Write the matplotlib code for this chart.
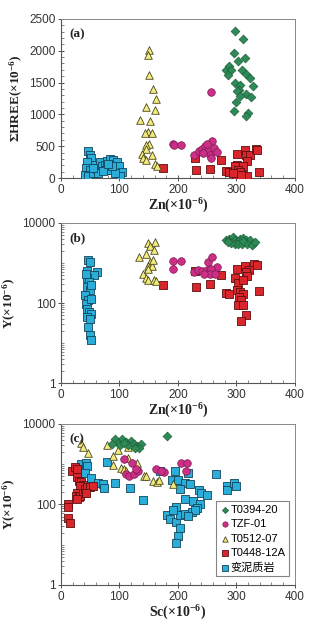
import matplotlib.pyplot as plt
from matplotlib.ticker import MultipleLocator, LogLocator, FixedLocator, NullFormatter

# ---- panel (a): Zn vs sum HREE ----
a_t0394_zn = [297, 311, 296, 303, 314, 282, 288, 291, 286, 310, 317, 324, 297, 307, 304, 301,
              328, 316, 325, 300, 296, 320, 317, 307]
a_t0394_hree = [2317, 2186, 1965, 1845, 1887, 1703, 1756, 1693, 1625, 1693, 1640, 1572, 1494,
                1467, 1389, 1363, 1452, 1321, 1268, 1190, 1048, 1022, 980, 1284]
a_tzf_zn = [191, 194, 206, 256, 228, 236, 242, 246, 252, 259, 249, 262, 266, 255, 256, 243]
a_tzf_hree = [540, 524, 514, 1352, 367, 419, 461, 498, 419, 587, 535, 472, 404, 367, 314, 393]
a_t0512_zn = [151, 148, 150, 158, 162, 145, 160, 135, 152, 148, 156, 144, 150, 145, 146, 139,
              156, 141, 146, 161, 165]
a_t0512_hree = [2008, 1934, 1614, 1405, 1248, 1111, 1075, 917, 902, 718, 708, 708, 535, 514,
                456, 383, 362, 314, 278, 220, 194]
a_t0448_zn = [175, 229, 231, 254, 274, 283, 288, 301, 301, 314, 316, 323, 333, 335, 318, 312,
              297, 303, 306, 312, 300, 318, 308, 338, 294]
a_t0448_hree = [152, 314, 131, 141, 288, 105, 89, 383, 210, 446, 362, 367, 461, 446, 273, 194,
                183, 131, 89, 52, 26, 26, 52, 89, 78]
a_meta_zn = [47, 50, 52, 45, 58, 67, 43, 50, 41, 47, 54, 61, 70, 75, 79, 84, 89, 92, 95, 100,
             104, 101, 77, 84, 92, 64, 72, 87, 81, 55]
a_meta_hree = [419, 367, 314, 246, 210, 246, 157, 131, 52, 26, 79, 141, 183, 210, 273, 299, 278,
               210, 246, 183, 89, 37, 131, 131, 79, 79, 105, 194, 225, 157]

# ---- panel (b): Zn vs Y ----
b_t0394_zn = [283, 288, 294, 297, 301, 306, 312, 316, 320, 324, 328, 297, 303, 291, 309, 318,
              326, 331, 286, 311]
b_t0394_y = [3690, 4050, 4467, 3800, 3300, 4050, 4300, 3690, 3300, 3800, 3043, 3043, 2900,
             3200, 3043, 2900, 2760, 3300, 3400, 3500]
b_tzf_zn = [192, 206, 191, 227, 235, 242, 249, 254, 260, 266, 251, 259, 256, 254, 263, 245]
b_tzf_y = [1122, 1122, 693, 596, 656, 618, 656, 631, 656, 794, 1059, 1413, 720, 540, 540, 520]
b_t0512_zn = [134, 149, 161, 153, 159, 145, 152, 149, 155, 140, 146, 148, 159, 162, 157, 148]
b_t0512_y = [1413, 3162, 3350, 2610, 2080, 1650, 1060, 830, 830, 540, 422, 382, 382, 355,
             1170, 720]
b_t0448_zn = [174, 230, 231, 254, 274, 282, 288, 301, 297, 303, 314, 330, 336, 322, 316, 318,
              312, 301, 307, 312, 304, 308, 302, 312, 317, 308, 339]
b_t0448_y = [288, 618, 251, 303, 490, 178, 170, 720, 430, 316, 830, 960, 910, 656, 596, 465,
             382, 208, 188, 170, 141, 117, 87, 87, 49, 35, 195]
b_meta_zn = [47, 50, 45, 62, 57, 45, 48, 45, 50, 41, 47, 43, 51, 44, 48, 52, 45, 50, 47, 50,
             51, 43, 51]
b_meta_y = [1210, 1060, 630, 596, 490, 430, 335, 251, 208, 155, 117, 96, 128, 72, 60, 54, 45,
            41, 25, 15.5, 12, 540, 275]

# ---- panel (c): Sc vs Y ----
c_t0394_sc = [181, 92, 105, 112, 120, 98, 88, 101, 115, 124, 130, 137, 134, 127, 108]
c_t0394_y = [5130, 4170, 4170, 3640, 3850, 3440, 3120, 3010, 3010, 3180, 2830, 3180, 2490,
             2490, 3300]
c_tzf_sc = [108, 122, 162, 176, 206, 216, 213, 112, 117, 124, 131, 128, 171]
c_tzf_y = [1320, 1050, 748, 630, 1050, 1050, 680, 560, 510, 560, 660, 750, 680]
c_t0512_sc = [35, 37, 47, 79, 89, 89, 98, 103, 108, 112, 115, 115, 130, 142, 146, 157, 165,
              168, 191]
c_t0512_y = [3310, 2630, 1950, 3010, 1600, 960, 2240, 790, 760, 690, 1410, 2750, 1050, 510,
             500, 380, 370, 405, 320]
c_t0448_sc = [12.5, 12.5, 12.5, 15, 18, 24, 27, 28, 31, 35, 38, 33, 27, 26, 30, 33, 37, 41,
              45, 50, 54, 43, 28]
c_t0448_y = [100, 85, 45, 34, 690, 870, 750, 470, 390, 370, 305, 290, 196, 162, 150, 162, 190,
             240, 277, 270, 290, 196, 134]
c_meta_sc = [35, 43, 45, 41, 51, 63, 71, 74, 79, 92, 118, 140, 169, 195, 189, 200, 212, 220,
             203, 218, 265, 284, 284, 296, 300, 236, 240, 249, 212, 226, 238, 232, 197, 181,
             187, 196, 203, 212, 224, 230, 218, 203, 200, 196, 191]
c_meta_y = [1000, 1050, 910, 590, 450, 350, 320, 262, 1150, 350, 262, 129, 680, 690, 405, 405,
            350, 320, 240, 617, 560, 295, 230, 340, 290, 230, 196, 172, 134, 124, 103, 83, 85,
            55, 43, 37, 55, 58, 66, 73, 52, 26, 16.5, 11.3, 73]

legend_labels = ['T0394-20', 'TZF-01', 'T0512-07', 'T0448-12A', '变泥质岩']

plt.rcParams['font.family'] = ['Liberation Sans', 'Noto Sans CJK SC']
plt.rcParams['mathtext.fontset'] = 'custom'
plt.rcParams['mathtext.rm'] = 'Liberation Serif:bold'
plt.rcParams['mathtext.it'] = 'Liberation Serif:bold'
plt.rcParams['mathtext.bf'] = 'Liberation Serif:bold'
serif = ['Liberation Serif', 'Noto Serif CJK SC', 'Noto Sans CJK SC']

styles = [
    dict(marker='D', color='#2e8b57', edgecolor='#1d5e3a', s=20, lw=0.5),
    dict(marker='o', color='#cc2f86', edgecolor='#7a1a50', s=30, lw=0.5),
    dict(marker='^', color='#f2ec7c', edgecolor='#4a4520', s=30, lw=0.6),
    dict(marker='s', color='#d8262c', edgecolor='#5a1010', s=30, lw=0.6),
    dict(marker='s', color='#2aaed9', edgecolor='#12455a', s=30, lw=0.6),
]

fig = plt.figure(figsize=(3.28, 6.29), dpi=100)
fig.patch.set_facecolor('white')

boxes = [[0.186, 0.717, 0.713, 0.253],
         [0.186, 0.391, 0.713, 0.2545],
         [0.186, 0.070, 0.713, 0.256]]

panels = [
    ([a_t0394_zn, a_tzf_zn, a_t0512_zn, a_t0448_zn, a_meta_zn],
     [a_t0394_hree, a_tzf_hree, a_t0512_hree, a_t0448_hree, a_meta_hree],
     '(a)', 'Zn(×10$^{-6}$)', 'ΣHREE(×10$^{-6}$)', False),
    ([b_t0394_zn, b_tzf_zn, b_t0512_zn, b_t0448_zn, b_meta_zn],
     [b_t0394_y, b_tzf_y, b_t0512_y, b_t0448_y, b_meta_y],
     '(b)', 'Zn(×10$^{-6}$)', 'Y(×10$^{-6}$)', True),
    ([c_t0394_sc, c_tzf_sc, c_t0512_sc, c_t0448_sc, c_meta_sc],
     [c_t0394_y, c_tzf_y, c_t0512_y, c_t0448_y, c_meta_y],
     '(c)', 'Sc(×10$^{-6}$)', 'Y(×10$^{-6}$)', True),
]

for i, (xs, ys, tag, xlab, ylab, logy) in enumerate(panels):
    ax = fig.add_axes(boxes[i])
    for k in [4, 3, 2, 1, 0]:
        st = styles[k]
        ax.scatter(xs[k], ys[k], marker=st['marker'], facecolor=st['color'],
                   edgecolor=st['edgecolor'], s=st['s'], linewidths=st['lw'],
                   label=legend_labels[k], zorder=3)
    ax.set_xlim(0, 400)
    ax.xaxis.set_major_locator(MultipleLocator(100))
    ax.xaxis.set_minor_locator(MultipleLocator(20))
    if logy:
        ax.set_yscale('log')
        ax.set_ylim(1, 10000)
        ax.yaxis.set_major_locator(FixedLocator([1, 100, 10000]))
        ax.yaxis.set_minor_locator(LogLocator(base=10, subs=[1, 2, 3, 4, 5, 6, 7, 8, 9], numticks=20))
        ax.yaxis.set_minor_formatter(NullFormatter())
        ax.set_yticklabels(['1', '100', '10000'])
    else:
        ax.set_ylim(0, 2500)
        ax.yaxis.set_major_locator(MultipleLocator(500))
        ax.yaxis.set_minor_locator(MultipleLocator(100))
    ax.tick_params(which='major', direction='inout', length=5, width=0.7, color='#555555',
                   labelsize=8.5, labelcolor='#333333', pad=1.5)
    ax.tick_params(which='minor', direction='in', length=2.5, width=0.5, color='#555555')
    for side in ['left', 'bottom']:
        ax.spines[side].set_color('#555555')
        ax.spines[side].set_linewidth(0.8)
    for side in ['top', 'right']:
        ax.spines[side].set_color('#888888')
        ax.spines[side].set_linewidth(0.7)
    ax.set_xlabel(xlab, family=serif, fontweight='bold', fontsize=10, color='#222222',
                  labelpad=1)
    ax.set_ylabel(ylab, family=serif, fontweight='bold', fontsize=9.5, color='#222222',
                  labelpad=3)
    ax.text(0.035, 0.94, tag, transform=ax.transAxes, family=serif, fontweight='bold',
            fontsize=9.5, color='#222222', va='top')
    if i == 2:
        h, l = ax.get_legend_handles_labels()
        leg = ax.legend(h[::-1], l[::-1], loc='lower right', bbox_to_anchor=(0.985, 0.04),
                        fontsize=8, frameon=True, fancybox=False, handletextpad=0.0,
                        borderpad=0.3, labelspacing=0.4, handlelength=1.0,
                        borderaxespad=0.2, markerscale=0.7)
        leg.get_frame().set_edgecolor('#666666')
        leg.get_frame().set_linewidth(0.8)

fig.savefig('out.png', dpi=100, facecolor='white')
